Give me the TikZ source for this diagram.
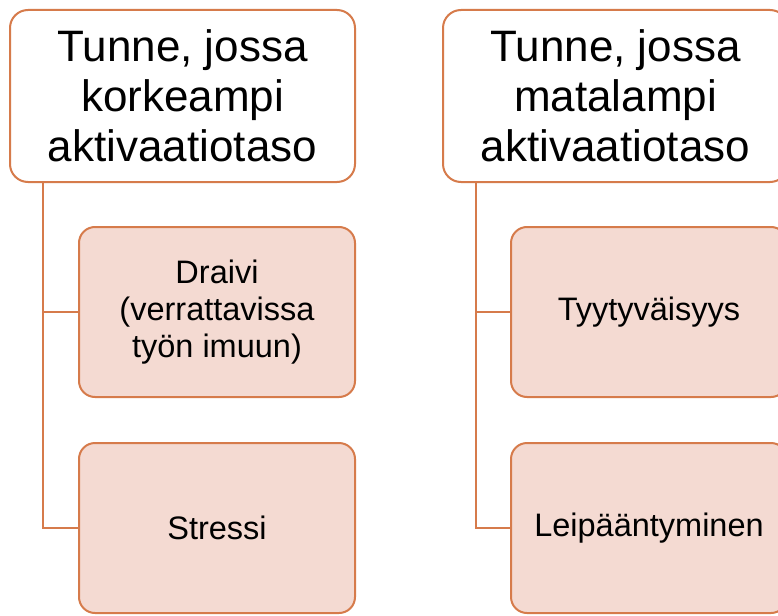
\documentclass[tikz,border=0pt]{standalone}
\usepackage{fontspec}
\setmainfont{Liberation Sans}
\definecolor{edge}{HTML}{D67B4B}
\definecolor{pinkfill}{HTML}{F4DAD2}
\begin{document}
\begin{tikzpicture}[x=1pt,y=-1pt,
  head/.style={draw=edge,line width=2pt,fill=white,rounded corners=18pt,
    minimum width=345pt,minimum height=172pt,inner sep=0pt,align=center,
    font=\fontsize{44}{50}\selectfont},
  child/.style={draw=edge,line width=2pt,fill=pinkfill,rounded corners=16pt,
    minimum width=276pt,minimum height=170pt,inner sep=0pt,align=center,
    font=\fontsize{32.5}{37}\selectfont},
  conn/.style={draw=edge,line width=2pt}]
\clip (0,0) rectangle (778,615);
\useasboundingbox (0,0) rectangle (778,615);
\fill[white] (0,0) rectangle (778,615);
\node[head] (hl) at (182.5,96) {Tunne, jossa\\korkeampi\\aktivaatiotaso};
\node[head] (hr) at (615.5,96) {Tunne, jossa\\matalampi\\aktivaatiotaso};
\node[child] (l1) at (217,312) {Draivi\\(verrattavissa\\työn imuun)};
\node[child] (l2) at (217,528) {Stressi};
\node[child] (r1) at (649,312) {Tyytyväisyys};
\node[child] (r2) at (649,528) {Leipääntyminen};
\coordinate (al) at ([xshift=34pt]hl.south west);
\coordinate (ar) at ([xshift=34pt]hr.south west);
\draw[conn] (al) |- (l1.west);
\draw[conn] (al) |- (l2.west);
\draw[conn] (ar) |- (r1.west);
\draw[conn] (ar) |- (r2.west);
\end{tikzpicture}
\end{document}
